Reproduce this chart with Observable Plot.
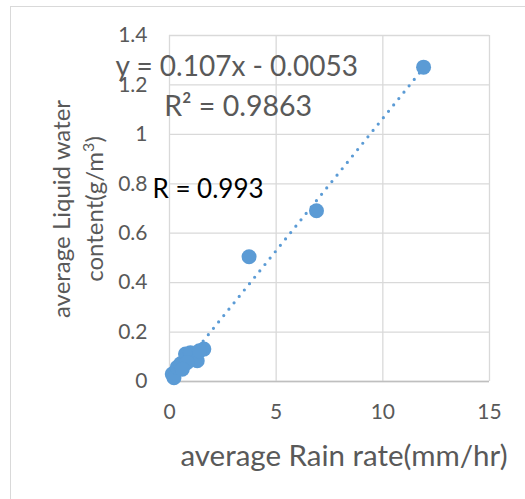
<!DOCTYPE html>
<html>
<head>
<meta charset="utf-8">
<script src="https://cdn.jsdelivr.net/npm/d3@7"></script>
<script src="https://cdn.jsdelivr.net/npm/@observablehq/plot@0.6"></script>
<style>
  html, body { margin: 0; padding: 0; background: #fff; }
  #wrap { position: relative; width: 525px; height: 499px; overflow: hidden; font-family: Lato, "Open Sans", sans-serif; }
  #frame { position: absolute; left: 10px; top: 6px; width: 600px; height: 600px; border: 1px solid #d9d9d9; box-sizing: border-box; }
  #chart { position: absolute; left: 0; top: 0; }
</style>
</head>
<body>
<div id="wrap"><div id="frame"></div><div id="chart"></div></div>
<script>
// Data
const rainRate = [0.13, 0.21, 0.36, 0.52, 0.75, 0.98, 1.30, 0.83, 1.61, 1.40, 0.60, 3.73, 6.89, 11.91];
const lwc      = [0.030, 0.015, 0.057, 0.072, 0.111, 0.116, 0.084, 0.077, 0.131, 0.124, 0.050, 0.505, 0.691, 1.272];
const slope = 0.107, intercept = -0.0053;
const xTicks = [0, 5, 10, 15];
const yTicks = [0, 0.2, 0.4, 0.6, 0.8, 1, 1.2, 1.4];
const annotations = [
  {x: -2.53, y: 1.273, text: "y = 0.107x - 0.0053", size: 28, color: "#595959"},
  {x: -0.25, y: 1.111, text: "R² = 0.9863", size: 28.5, color: "#595959"},
  {x: -0.8, y: 0.775, text: "R = 0.993", size: 26, color: "#000000"}
];

const points = rainRate.map((x, i) => ({x, y: lwc[i]}));
const xMin = d3.min(rainRate), xMax = d3.max(rainRate);
const trend = [xMin, xMax].map(x => ({x, y: slope * x + intercept}));

const chart = Plot.plot({
  width: 525,
  height: 499,
  marginLeft: 169,
  marginRight: 36,
  marginTop: 35,
  marginBottom: 118,
  style: {fontFamily: "Lato, 'Open Sans', sans-serif", background: "transparent", overflow: "visible"},
  x: {domain: [0, 15], ticks: xTicks, label: null},
  y: {domain: [0, 1.4], ticks: yTicks, label: null},
  marks: [
    Plot.gridX(xTicks, {stroke: "#d9d9d9", strokeOpacity: 1, strokeWidth: 1.3}),
    Plot.gridY(yTicks, {stroke: "#d9d9d9", strokeOpacity: 1, strokeWidth: 1.3}),
    Plot.ruleY([0], {stroke: "#bfbfbf", strokeWidth: 1.3}),
    Plot.axisX(xTicks, {tickSize: 0, tickPadding: 23, fontSize: 21, fill: "#595959", tickFormat: d => String(d)}),
    Plot.axisY(yTicks, {tickSize: 0, tickPadding: 22, fontSize: 21, fill: "#595959", tickFormat: d => String(d)}),
    Plot.line(trend, {x: "x", y: "y", stroke: "#5b9bd5", strokeWidth: 3.2, strokeDasharray: "0,8.2", strokeLinecap: "round"}),
    Plot.dot(points, {x: "x", y: "y", r: 7.5, fill: "#5b9bd5", stroke: "none"}),
    ...annotations.map(a => Plot.text([a], {x: "x", y: "y", text: "text", textAnchor: "start", fontSize: a.size, fill: a.color}))
  ]
});

// Axis titles as real text
const svg = d3.select(chart);
svg.append("text")
  .attr("x", 344).attr("y", 466)
  .attr("text-anchor", "middle")
  .attr("font-size", 29.5).attr("fill", "#595959")
  .text("average Rain rate(mm/hr)");
const yt = svg.append("text")
  .attr("transform", "translate(70,209) rotate(-90)")
  .attr("text-anchor", "middle")
  .attr("font-size", 24).attr("fill", "#595959");
yt.append("tspan").attr("x", 0).attr("dy", 0).text("average Liquid water");
yt.append("tspan").attr("x", 0).attr("dy", 33).text("content(g/m");
yt.append("tspan").attr("dy", -9).attr("font-size", 16).text("3");
yt.append("tspan").attr("dy", 9).text(")");

document.getElementById("chart").appendChild(chart);
</script>
</body>
</html>
